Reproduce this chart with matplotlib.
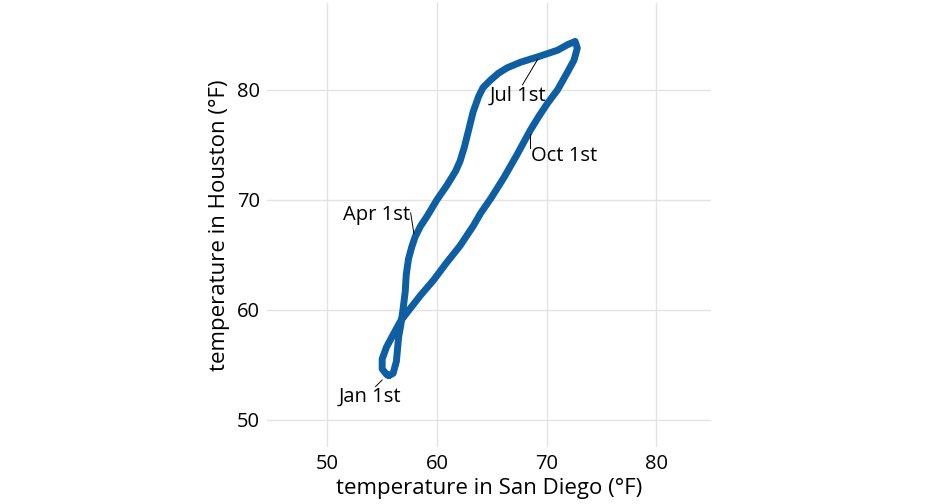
import matplotlib.pyplot as plt

# daily-normal temperatures traced along the yearly loop, starting Jan 1st
san_diego = [55.6, 56.0, 56.3, 56.4, 56.5, 56.7, 56.9, 57.1, 57.2, 57.4,
             57.7, 58.0, 58.5, 59.1, 60.0, 60.9, 61.7, 62.1, 62.5, 62.9,
             63.3, 63.8, 64.2, 64.9, 65.6, 66.4, 67.6, 69.2, 71.0, 71.9,
             72.6, 72.8, 72.5, 71.9, 71.0, 70.1, 69.3, 68.5, 67.3, 66.1,
             64.9, 64.0, 63.3, 62.1, 60.9, 59.7, 58.5, 57.4, 56.7, 56.1,
             55.4, 55.0, 55.0, 55.4]
houston = [54.0, 54.2, 55.3, 56.4, 57.5, 58.6, 60.0, 61.6, 63.2, 64.6,
           65.7, 66.6, 67.6, 68.5, 70.0, 71.3, 72.6, 73.5, 74.8, 76.4,
           78.0, 79.4, 80.2, 80.9, 81.5, 82.0, 82.5, 83.0, 83.6, 84.1,
           84.4, 83.8, 82.7, 81.6, 80.0, 78.8, 77.6, 76.3, 74.1, 72.0,
           70.1, 68.8, 67.6, 65.8, 64.3, 62.7, 61.3, 59.9, 59.0, 57.9,
           56.6, 55.5, 54.6, 54.1]

# date labels: text, leader segment (start, end), text centre
labels = ["Jan 1st", "Apr 1st", "Jul 1st", "Oct 1st"]
seg_start = [(55.0, 53.6), (57.9, 66.9), (69.2, 82.8), (68.5, 76.0)]
seg_end = [(54.4, 53.0), (57.6, 68.8), (67.8, 80.45), (68.5, 74.7)]
text_pos = [(53.9, 52.1), (54.5, 68.65), (67.4, 79.45), (71.6, 74.0)]

x_ticks = [50, 60, 70, 80]
y_ticks = [50, 60, 70, 80]

line_color = "#0d5ea3"
font = ["Open Sans", "DejaVu Sans"]


def main() -> None:
    plt.rcParams["font.family"] = font
    fig = plt.figure(figsize=(9.36, 5.04), dpi=100)
    ax = fig.add_axes([0.2853, 0.1131, 0.4744, 0.8810])

    ax.plot(san_diego + san_diego[:1], houston + houston[:1], color=line_color,
            lw=5.0, solid_joinstyle="round", solid_capstyle="round", zorder=3)

    for text, (x0, y0), (x1, y1), (tx, ty) in zip(labels, seg_start,
                                                  seg_end, text_pos):
        ax.plot([x0, x1], [y0, y1], color="black", lw=0.7, zorder=4)
        ax.text(tx, ty, text, fontsize=14.5, ha="center", va="center", zorder=5)

    ax.set_xlim(44.5, 85.0)
    ax.set_ylim(47.5, 87.9)
    ax.set_xticks(x_ticks)
    ax.set_yticks(y_ticks)
    ax.tick_params(length=0, labelsize=14.5, pad=5)
    for s in ax.spines.values():
        s.set_visible(False)
    ax.grid(True, color="#e3e3e3", lw=1.0)
    ax.set_axisbelow(True)
    ax.set_xlabel("temperature in San Diego (°F)", fontsize=16, labelpad=3)
    ax.set_ylabel("temperature in Houston (°F)", fontsize=16, labelpad=5)

    fig.savefig("out.png", dpi=100)


if __name__ == "__main__":
    main()
